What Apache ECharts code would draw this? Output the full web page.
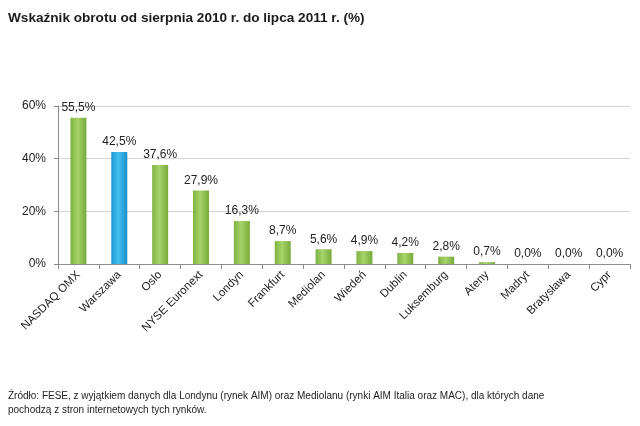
<!DOCTYPE html>
<html><head><meta charset="utf-8">
<script src="https://cdn.jsdelivr.net/npm/echarts@6/dist/echarts.min.js"></script>
<style>html,body{margin:0;padding:0;background:#fff}#c{width:640px;height:426px}</style>
</head><body><div id="c"></div>
<script>
const categories = ["NASDAQ OMX","Warszawa","Oslo","NYSE Euronext","Londyn","Frankfurt","Mediolan","Wiedeń","Dublin","Luksemburg","Ateny","Madryt","Bratysława","Cypr"];
const values = [55.5,42.5,37.6,27.9,16.3,8.7,5.6,4.9,4.2,2.8,0.7,0.0,0.0,0.0];
const highlighted = ["Warszawa"];
const yTicks = [0,20,40,60];

const green = new echarts.graphic.LinearGradient(0,0,1,0,[
  {offset:0,color:'#7fb241'},{offset:0.45,color:'#a6d36a'},{offset:1,color:'#78aa3a'}]);
const blue = new echarts.graphic.LinearGradient(0,0,1,0,[
  {offset:0,color:'#1e98d0'},{offset:0.45,color:'#44bdf0'},{offset:1,color:'#1a8fc6'}]);
const font = "'Liberation Sans', Arial, sans-serif";

const chart = echarts.init(document.getElementById('c'), null, {renderer:'canvas'});
chart.setOption({
  animation:false,
  backgroundColor:'#fff',
  title:[{text:'Wskaźnik obrotu od sierpnia 2010 r. do lipca 2011 r. (%)',left:8,top:11,padding:0,
    textStyle:{fontFamily:font,fontSize:13.6,fontWeight:'bold',color:'#1a1a1a'}},
   {text:'Źródło: FESE, z wyjątkiem danych dla Londynu (rynek AIM) oraz Mediolanu (rynki AIM Italia oraz MAC), dla których dane\npochodzą z stron internetowych tych rynków.',left:8,top:389,padding:0,
    textStyle:{fontFamily:font,fontSize:10,fontWeight:'normal',color:'#222',lineHeight:14}}],
  grid:{left:58,right:10,top:106,bottom:162},
  xAxis:{type:'category',data:categories,
    axisLine:{lineStyle:{color:'#8c8c8c'}},
    axisTick:{show:true,interval:0,alignWithLabel:false,length:5,lineStyle:{color:'#8c8c8c'}},
    axisLabel:{interval:0,rotate:45,color:'#222',fontFamily:font,fontSize:11.5,margin:9}},
  yAxis:{type:'value',min:0,max:60,interval:20,
    axisLine:{show:true,lineStyle:{color:'#8c8c8c'}},
    axisTick:{show:true,length:4,lineStyle:{color:'#8c8c8c'}},
    splitLine:{lineStyle:{color:'#d4d4d4'}},
    axisLabel:{formatter:v=>v+'%',color:'#222',fontFamily:font,fontSize:12,margin:12}},
  series:[{type:'bar',barWidth:16,
    data:values.map((v,i)=>({value:v,itemStyle:{color:highlighted.includes(categories[i])?blue:green}})),
    label:{show:true,position:'top',distance:4,color:'#222',fontFamily:font,fontSize:12,
      formatter:p=>p.value.toFixed(1).replace('.',',')+'%'}}]
});
</script></body></html>
